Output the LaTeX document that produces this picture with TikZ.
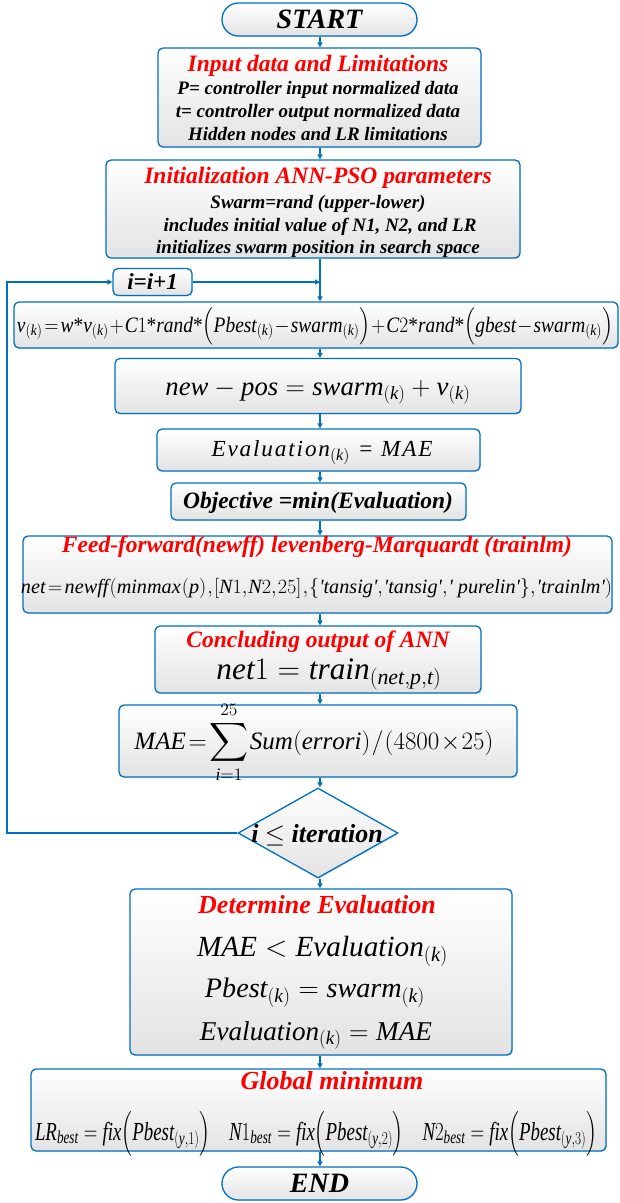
\RequirePackage{fix-cm}
\documentclass[tikz,border=0pt]{standalone}
\usepackage{fontspec}
\setmainfont{Liberation Serif}
\usepackage{amsmath}
\usepackage{graphicx}
\usetikzlibrary{arrows.meta,shapes.geometric,shapes.misc,shadows}
\definecolor{bl}{RGB}{0,112,192}
\definecolor{rd}{RGB}{255,0,0}
\newcommand\mi[1]{\mathit{#1}}
\newcommand\sta{\text{*}}
\newcommand\qq{\textquotesingle}
% formula fitted to a given width, uniform scaling (tight / normal spacing)
\newcommand\fitt[3]{\resizebox{#1}{!}{\fontsize{#2}{#2}\selectfont$\medmuskip=1mu\thickmuskip=2mu\thinmuskip=1mu #3$}}
\newcommand\fitn[3]{\resizebox{#1}{!}{\fontsize{#2}{#2}\selectfont$#3$}}
% formula fitted to a given width, height kept (condensed)
\newcommand\fitc[3]{\resizebox{#1}{\height}{\fontsize{#2}{#2}\selectfont$#3$}}
\newcommand\fitct[3]{\resizebox{#1}{\height}{\fontsize{#2}{#2}\selectfont$\medmuskip=1mu\thickmuskip=2mu\thinmuskip=1mu #3$}}
\begin{document}
\begin{tikzpicture}[x=1pt,y=-1pt,
  box/.style={draw=bl, line width=1.3pt, rounded corners=5pt, top color=white, bottom color=black!11,
    drop shadow={opacity=0.18, shadow xshift=1.2pt, shadow yshift=-1.2pt}, inner sep=0pt, align=center},
  term/.style={box, rounded rectangle, sharp corners},
  arr/.style={draw=bl, line width=1.1pt, -{Triangle[length=5pt,width=5pt]}},
  ttl/.style={anchor=base, inner sep=0pt, text=rd, font=\fontsize{23.5}{26}\selectfont\bfseries\itshape},
  txt/.style={anchor=base, inner sep=0pt, font=\fontsize{19}{22}\selectfont\bfseries\itshape},
  big/.style={anchor=base, inner sep=0pt, font=\fontsize{26}{28}\selectfont\bfseries\itshape},
  frm/.style={anchor=base, inner sep=0pt, font=\normalfont}
]
\useasboundingbox (0,0) rectangle (620,1203);

% START
\node[term, minimum width=195pt, minimum height=33pt, font=\fontsize{28}{30}\selectfont\bfseries\itshape] (start) at (319.5,19.5) {START};

% Input
\node[box, minimum width=323pt, minimum height=99pt] (input) at (319.5,97.5) {};
\node[ttl] (input-t) at (318,71) {Input data and Limitations};
\node[txt] (input-1) at (318,94) {P= controller input normalized data};
\node[txt] (input-2) at (318,117) {t= controller output normalized data};
\node[txt] (input-3) at (318,140) {Hidden nodes and LR limitations};

% Init
\node[box, minimum width=414pt, minimum height=98pt] (init) at (313,209) {};
\node[ttl] (init-t) at (318,183) {Initialization ANN-PSO parameters};
\node[txt] (init-1) at (318,208) {Swarm=rand (upper-lower)};
\node[txt] (init-2) at (320,231) {includes initial value of N1, N2, and LR};
\node[txt] (init-3) at (318,253) {initializes swarm position in search space};

% i=i+1
\node[box, minimum width=79pt, minimum height=27pt, font=\fontsize{23}{25}\selectfont\bfseries\itshape] (inc) at (152.5,282) {i=i+1};

% velocity
\node[box, minimum width=604pt, minimum height=46pt] (vel) at (316,325) {};
\node[frm] (vel-f) at (315,332) {\fitct{596pt}{22}{\mi{v}_{(\mi{k})} = \mi{w}\sta\mi{v}_{(\mi{k})} + \mi{C}1\sta\mi{rand}\sta\Bigl(\mi{Pbest}_{(\mi{k})} - \mi{swarm}_{(\mi{k})}\Bigr) + \mi{C}2\sta\mi{rand}\sta\Bigl(\mi{gbest} - \mi{swarm}_{(\mi{k})}\Bigr)}};

% new-pos
\node[box, minimum width=406pt, minimum height=55pt] (newpos) at (318,386) {};
\node[frm] (newpos-f) at (318,395) {\fitn{305pt}{29}{\mi{new} - \mi{pos} = \mi{swarm}_{(\mi{k})} + \mi{v}_{(\mi{k})}}};

% Evaluation
\node[box, minimum width=323pt, minimum height=42pt] (eval) at (318.5,450) {};
\node[frm] (eval-f) at (322,456) {\resizebox{221pt}{\height}{\fontsize{23}{25}\selectfont\itshape\addfontfeature{LetterSpace=8}Evaluation$_{(\mi{k})}$ = MAE}};

% Objective
\node[box, minimum width=295pt, minimum height=37pt] (obj) at (318.5,501.5) {};
\node[ttl, text=black] (obj-t) at (318,508) {Objective =min(Evaluation)};

% Feed-forward
\node[box, minimum width=589pt, minimum height=77pt] (ff) at (317.5,574.5) {};
\node[ttl] (ff-t) at (317,552) {Feed-forward(newff) levenberg-Marquardt (trainlm)};
\node[frm] (ff-f) at (316.5,593) {\fitt{591pt}{19}{\mi{net} = \mi{newff}\,(\mi{minmax}\left(\mi{p}\right),\left[\mi{N}1,\mi{N}2,25\right],\{\text{\itshape\qq tansig\qq},\text{\itshape\qq tansig\qq},\text{\itshape\qq\ purelin\qq}\},\text{\itshape\qq trainlm\qq})}};

% Concluding
\node[box, minimum width=326pt, minimum height=67pt] (concl) at (318,659.5) {};
\node[ttl] (concl-t) at (318,647) {Concluding output of ANN};
\node[frm] (concl-f) at (329,679) {\fitn{225pt}{28}{\mi{net}1 = \mi{train}_{(\mi{net},\mi{p},\mi{t})}}};

% MAE
\node[box, minimum width=398pt, minimum height=72pt] (mae) at (318,741) {};
\node[frm] (mae-f) at (314,749) {\fitt{359pt}{23}{\displaystyle \mi{MAE} = \sum_{\mi{i}=1}^{25} \mi{Sum}(\mi{errori})\,/\,(4800\times 25)}};

% decision
\node[diamond, draw=bl, line width=1.3pt, top color=white, bottom color=black!11,
  drop shadow={opacity=0.18, shadow xshift=1.2pt, shadow yshift=-1.2pt},
  minimum width=160pt, minimum height=90pt, inner sep=0pt] (dec) at (318,833) {};
\node[big] (dec-t) at (317,842) {i $\le$ iteration};

% Determine
\node[box, minimum width=382pt, minimum height=166pt] (det) at (321,972) {};
\node[ttl, font=\fontsize{26}{28}\selectfont\bfseries\itshape] (det-t) at (317,913) {Determine Evaluation};
\node[frm] (det-1) at (322.5,956) {\fitn{251pt}{25}{\mi{MAE} < \mi{Evaluation}_{(\mi{k})}}};
\node[frm] (det-2) at (315,997) {\fitn{220pt}{25}{\mi{Pbest}_{(\mi{k})} = \mi{swarm}_{(\mi{k})}}};
\node[frm] (det-3) at (316,1040) {\fitn{232pt}{25}{\mi{Evaluation}_{(\mi{k})} = \mi{MAE}}};

% Global
\node[box, minimum width=575pt, minimum height=82pt] (glob) at (318.5,1110) {};
\node[ttl, font=\fontsize{26}{28}\selectfont\bfseries\itshape] (glob-t) at (332,1089) {Global minimum};
\node[frm] (glob-f) at (316,1140) {\fitc{562pt}{26}{\mi{LR}_{\mi{best}} = \mi{fix}\Bigl(\mi{Pbest}_{(\mi{y},1)}\Bigr)\quad \mi{N}1_{\mi{best}} = \mi{fix}\Bigl(\mi{Pbest}_{(\mi{y},2)}\Bigr)\quad \mi{N}2_{\mi{best}} = \mi{fix}\Bigl(\mi{Pbest}_{(\mi{y},3)}\Bigr)}};

% END
\node[term, minimum width=195pt, minimum height=33pt, font=\fontsize{28}{30}\selectfont\bfseries\itshape] (end) at (319.5,1183.5) {END};

% connectors
\coordinate (ax) at (320,0);
\coordinate (lb) at (7,833);
\coordinate (lt) at (7,282);
\draw[arr] (ax|-start.south) -- (ax|-input.north);
\draw[arr] (ax|-input.south) -- (ax|-init.north);
\draw[arr] (ax|-init.south) -- (ax|-vel.north);
\draw[arr] (inc.east) -- (ax|-inc.east);
\draw[arr] (dec.west) -- (lb) -- (lt) -- (inc.west);
\draw[arr] (ax|-vel.south) -- (ax|-newpos.north);
\draw[arr] (ax|-newpos.south) -- (ax|-eval.north);
\draw[arr] (ax|-eval.south) -- (ax|-obj.north);
\draw[arr] (ax|-obj.south) -- (ax|-ff.north);
\draw[arr] (ax|-ff.south) -- (ax|-concl.north);
\draw[arr] (ax|-concl.south) -- (ax|-mae.north);
\draw[arr] (ax|-mae.south) -- (ax|-dec.north);
\draw[arr] (ax|-dec.south) -- (ax|-det.north);
\draw[arr] (ax|-det.south) -- (ax|-glob.north);
\draw[arr] (ax|-glob.south) -- (ax|-end.north);
\end{tikzpicture}
\end{document}
